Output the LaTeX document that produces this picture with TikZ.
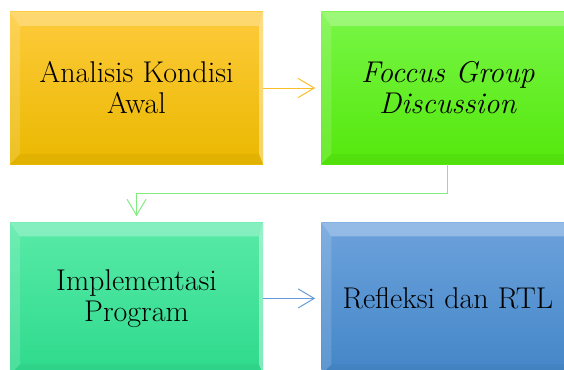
\documentclass[tikz,border=0pt]{standalone}
\usepackage{tikz}
\usetikzlibrary{positioning, arrows.meta}

\definecolor{kuningT}{RGB}{254,203,60}
\definecolor{kuningB}{RGB}{234,184,0}
\definecolor{hijauT}{RGB}{120,246,70}
\definecolor{hijauB}{RGB}{84,232,12}
\definecolor{tosqT}{RGB}{88,234,168}
\definecolor{tosqB}{RGB}{46,218,140}
\definecolor{biruT}{RGB}{108,162,220}
\definecolor{biruB}{RGB}{68,134,200}
\definecolor{panahK}{RGB}{250,190,40}
\definecolor{panahH}{RGB}{130,236,130}
\definecolor{panahB}{RGB}{104,156,214}

\tikzset{
  tahap/.style={rectangle, minimum width=253pt, minimum height=152pt, inner sep=0pt,
    align=center, font=\fontsize{30}{31}\selectfont,
    path picture={
      % bevel atas dan kiri (terang), bawah dan kanan
      \fill[white, opacity=.28] (path picture bounding box.north west) -- (path picture bounding box.north east)
        -- ([shift={(-4pt,-14pt)}]path picture bounding box.north east) -- ([shift={(10pt,-14pt)}]path picture bounding box.north west) -- cycle;
      \fill[white, opacity=.14] (path picture bounding box.north west) -- ([shift={(10pt,-14pt)}]path picture bounding box.north west)
        -- ([shift={(10pt,10pt)}]path picture bounding box.south west) -- (path picture bounding box.south west) -- cycle;
      \fill[black, opacity=.035] (path picture bounding box.south west) -- ([shift={(10pt,10pt)}]path picture bounding box.south west)
        -- ([shift={(-4pt,10pt)}]path picture bounding box.south east) -- (path picture bounding box.south east) -- cycle;
      \fill[white, opacity=.4] (path picture bounding box.south east) -- ([shift={(-4pt,10pt)}]path picture bounding box.south east)
        -- ([shift={(-4pt,-14pt)}]path picture bounding box.north east) -- (path picture bounding box.north east) -- cycle;
    }},
  panah/.style={-{Straight Barb[length=16pt, width=19pt]}, line width=1pt, shorten >=6pt},
}

\begin{document}
\begin{tikzpicture}
    \path[use as bounding box, clip] (0,0) rectangle (564pt,-369pt);
    \node[tahap, top color=kuningT, bottom color=kuningB] (A) at (136.5pt,-88pt) {Analisis Kondisi\\Awal};
    \node[tahap, top color=hijauT, bottom color=hijauB, right=58pt of A] (B) {\textit{Foccus Group}\\\textit{Discussion}};
    \node[tahap, top color=tosqT, bottom color=tosqB, below=58pt of A] (C) {Implementasi\\Program};
    \node[tahap, top color=biruT, bottom color=biruB, right=58pt of C] (D) {Refleksi dan RTL};

    \draw[panah, panahK] (A) -- (B);
    \draw[panah, panahH] (B.south) -- ++(0,-29pt) -| (C.north);
    \draw[panah, panahB] (C) -- (D);
\end{tikzpicture}
\end{document}
